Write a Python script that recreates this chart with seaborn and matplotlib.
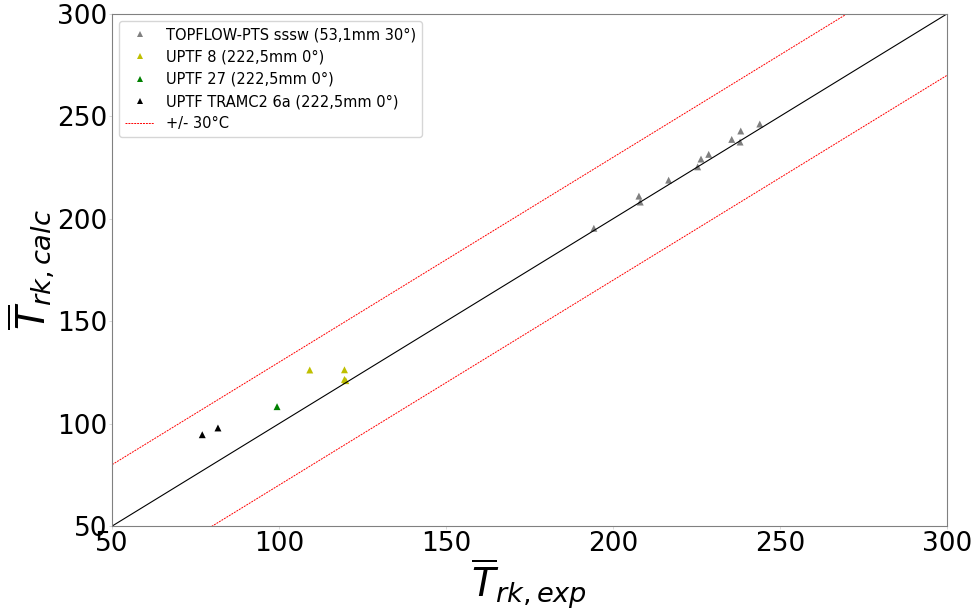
import numpy as np
import pandas as pd
import seaborn as sns
import matplotlib.pyplot as plt

# measured vs calculated mean temperatures
topflow_exp = [194.3, 207.8, 208.2, 216.7, 225.4, 226.4, 228.7, 235.6, 238.1, 238.3, 244.0]
topflow_calc = [195.4, 211.1, 208.2, 218.9, 225.4, 229.2, 231.5, 238.8, 237.5, 242.9, 246.3]
uptf8_exp = [109.2, 119.6, 119.6, 120.0]
uptf8_calc = [126.2, 126.3, 121.6, 121.0]
uptf27_exp = [99.4]
uptf27_calc = [108.3]
tramc_exp = [77.0, 81.7]
tramc_calc = [94.6, 97.9]

series_labels = ['TOPFLOW-PTS sssw (53,1mm 30°)', 'UPTF 8 (222,5mm 0°)',
                 'UPTF 27 (222,5mm 0°)', 'UPTF TRAMC2 6a (222,5mm 0°)']
series_colors = ['grey', 'y', 'g', 'k']

diag_x = [50, 300]
band = 30

df = pd.concat([
    pd.DataFrame({'exp': topflow_exp, 'calc': topflow_calc, 'serie': series_labels[0]}),
    pd.DataFrame({'exp': uptf8_exp, 'calc': uptf8_calc, 'serie': series_labels[1]}),
    pd.DataFrame({'exp': uptf27_exp, 'calc': uptf27_calc, 'serie': series_labels[2]}),
    pd.DataFrame({'exp': tramc_exp, 'calc': tramc_calc, 'serie': series_labels[3]}),
])

sns.set_style('white')
plt.rcParams['text.color'] = 'black'
fig = plt.figure(figsize=(9.75, 6.11), dpi=100)
ax = fig.add_axes([0.115, 0.139, 0.856, 0.838])

sns.scatterplot(data=df, x='exp', y='calc', hue='serie', palette=dict(zip(series_labels, series_colors)),
                marker='^', s=25, linewidth=0, ax=ax)

diag = np.array(diag_x)
ax.plot(diag, diag, color='k', linewidth=0.8, label='_nolegend_')
ax.plot(diag, diag + band, color='r', linestyle='--', dashes=(2, 1), linewidth=0.7, label='+/- 30°C')
ax.plot(diag, diag - band, color='r', linestyle='--', dashes=(2, 1), linewidth=0.7, label='_nolegend_')

ax.set_xlim(50, 300)
ax.set_ylim(50, 300)
ax.set_xlabel(r'$\overline{T}_{rk,exp}$', fontsize=28, labelpad=0, color='black')
ax.set_ylabel(r'$\overline{T}_{rk,calc}$', fontsize=28, labelpad=0, color='black')
ax.tick_params(labelsize=19, labelcolor='black', length=2.5, width=0.6, color='lightgrey',
               pad=1, bottom=True, left=True)
for s in ax.spines.values():
    s.set_color('grey')
    s.set_linewidth(0.8)

ax.legend(loc='upper left', fontsize=10.5, markerscale=0.8, title=None)

plt.savefig('out.png', dpi=100)
